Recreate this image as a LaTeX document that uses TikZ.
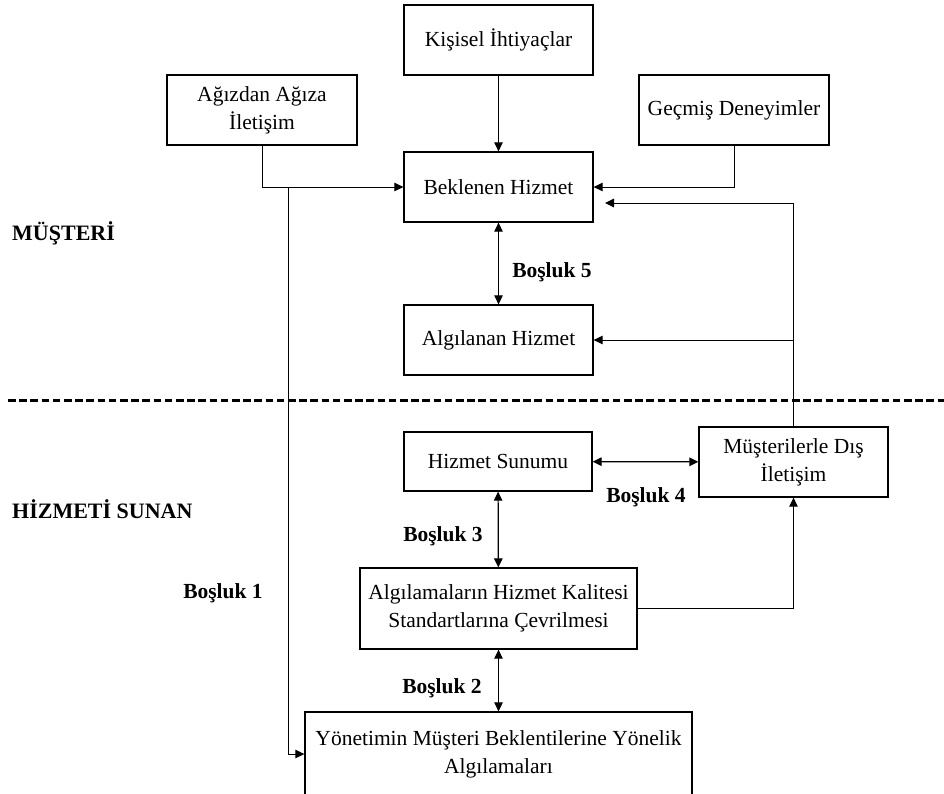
\documentclass[tikz,border=0pt]{standalone}
\usepackage{fontspec}
\setmainfont{Liberation Serif}
\usetikzlibrary{arrows.meta}
\begin{document}
\begin{tikzpicture}[x=1pt,y=-1pt,
  box/.style={draw,line width=1.3pt,align=center,inner sep=0pt,
    font=\fontsize{21.5}{28}\selectfont},
  conn/.style={line width=1pt,-{Triangle[length=9pt,width=8.5pt]}},
  both/.style={line width=1.2pt,{Triangle[length=9pt,width=8.5pt]}-{Triangle[length=9pt,width=8.5pt]}},
  plainline/.style={line width=1pt},
  gaplabel/.style={font=\bfseries\fontsize{21.5}{26}\selectfont,inner sep=0pt},
  sidelabel/.style={font=\bfseries\fontsize{22}{26}\selectfont,inner sep=0pt,anchor=west},
]
\clip (0,0) rectangle (944,793);

% customer side boxes
\node[box,minimum width=189pt,minimum height=70pt] (needs) at (498.5,40) {Kişisel İhtiyaçlar};
\node[box,minimum width=190pt,minimum height=70pt] (wom) at (262,110) {Ağızdan Ağıza\\İletişim};
\node[box,minimum width=190pt,minimum height=70pt] (past) at (734,110) {Geçmiş Deneyimler};
\node[box,minimum width=189pt,minimum height=70pt] (expected) at (498.5,187) {Beklenen Hizmet};
\node[box,minimum width=189pt,minimum height=70pt] (perceived) at (498.5,340) {Algılanan Hizmet};

% provider side boxes
\node[box,minimum width=188pt,minimum height=59pt] (delivery) at (498,461.5) {Hizmet Sunumu};
\node[box,minimum width=189pt,minimum height=70pt] (extcomm) at (793.5,462) {Müşterilerle Dış\\İletişim};
\node[box,minimum width=277pt,minimum height=81pt] (standards) at (498.5,608.5) {Algılamaların Hizmet Kalitesi\\Standartlarına Çevrilmesi};
\node[box,minimum width=387pt,minimum height=84pt] (mgmt) at (498.5,754) {Yönetimin Müşteri Beklentilerine Yönelik\\Algılamaları};

% boundary between customer and provider
\draw[line width=3pt,dash pattern=on 7.5pt off 3.7pt] (8,400) -- (944,400);

% side headings
\node[sidelabel] (cust) at (12,233) {MÜŞTERİ};
\node[sidelabel] (prov) at (12,509) {HİZMETİ SUNAN};

% gap labels
\node[gaplabel] (g5) at (552,272) {Boşluk 5};
\node[gaplabel] (g4) at (646,497) {Boşluk 4};
\node[gaplabel] (g3) at (443,536) {Boşluk 3};
\node[gaplabel] (g2) at (442,688) {Boşluk 2};
\node[gaplabel] (g1) at (223,593) {Boşluk 1};

% helper points for the elbow connectors
\coordinate (womturn) at (wom.south |- expected.west);
\coordinate (gapone) at (288,187);
\coordinate (extup) at (extcomm.north |- 0,203);
\coordinate (extend) at (605,203);
\coordinate (extmid) at (extcomm.north |- perceived.east);
\coordinate (stdturn) at (extcomm.south |- standards.east);

% inputs into the expected service
\draw[conn] (needs) -- (expected);
\draw[plainline] (wom.south) -- (womturn) -- (gapone);
\draw[conn] (gapone) -- (expected.west);
\draw[conn] (past.south) |- (expected.east);

% external communications feed back to the customer side
\draw[plainline] (extcomm.north) -- (extup);
\draw[conn] (extup) -- (extend);
\draw[conn] (extmid) -- (perceived.east);

% gaps
\draw[both] (expected) -- (perceived);
\draw[both] (delivery) -- (extcomm);
\draw[both] (delivery) -- (standards);
\draw[both] (standards) -- (mgmt);
\draw[conn] (standards.east) -- (stdturn) -- (extcomm.south);
\draw[conn] (gapone) |- (mgmt.west);
\end{tikzpicture}
\end{document}
